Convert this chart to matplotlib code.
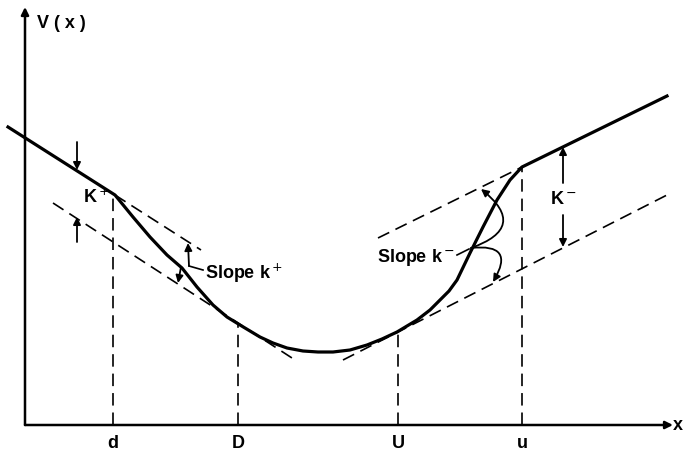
import numpy as np
import matplotlib.pyplot as plt

plt.rcParams['font.family'] = ['Liberation Sans', 'DejaVu Sans']
plt.rcParams['lines.scale_dashes'] = False

curve_x = [-17, 90, 108, 125, 142, 157, 172, 188, 202, 215, 225, 235, 248,
           262, 278, 293, 308, 325, 342, 357, 372, 392, 405, 415, 424, 432,
           445, 458, 472, 485, 497, 642]
curve_v = [298, 230, 208, 188, 170, 157, 138, 120, 108, 100, 94, 88, 82,
           77, 74, 73, 73, 75, 80, 86, 93, 105, 115, 125, 134, 145,
           172, 198, 225, 245, 258, 329]

# break points on the x axis
tick_pos = [88, 213, 373, 497]
tick_labels = ['d', 'D', 'U', 'u']

# dashed tangent lines (slope k+ on the left, slope k- on the right)
left_upper_x, left_upper_v = [90, 176], [230, 175]
left_lower_x, left_lower_v = [28, 267], [222, 67]
right_upper_x, right_upper_v = [353, 497], [187, 258]
right_lower_x, right_lower_v = [318, 642], [65, 230]


def arrow(ax, tail, tip, rad=0.0, lw=1.3):
    ax.annotate('', xy=tip, xytext=tail,
                arrowprops=dict(arrowstyle='-|>', color='k', lw=lw,
                                mutation_scale=11, shrinkA=0, shrinkB=0,
                                connectionstyle='arc3,rad=%s' % rad))


fig = plt.figure(figsize=(6.83, 4.53), dpi=100, facecolor='w')
ax = fig.add_axes([0, 0, 1, 1])
ax.set_xlim(-25, 658)
ax.set_ylim(-28, 425)
ax.axis('off')

txt = dict(fontsize=13, fontweight='bold')

# axes with arrow heads
arrow(ax, (0, 0), (0, 418), lw=1.8)
arrow(ax, (0, 0), (648, 0), lw=1.8)
ax.text(12, 401, 'V ( x )', va='center', ha='left', **txt)
ax.text(658, 0, 'x', va='center', ha='right', **txt)

# the potential curve
ax.plot(curve_x, curve_v, color='k', lw=2.3, solid_joinstyle='round')

dash = dict(color='k', lw=1.2, dashes=(9, 5))
for xs, vs in [(left_upper_x, left_upper_v), (left_lower_x, left_lower_v),
               (right_upper_x, right_upper_v), (right_lower_x, right_lower_v)]:
    ax.plot(xs, vs, **dash)

for pos, lab in zip(tick_pos, tick_labels):
    top = np.interp(pos, curve_x, curve_v)
    ax.plot([pos, pos], [0, top], **dash)
    ax.text(pos, -18, lab, ha='center', va='center', **txt)

# K+ gap on the left
arrow(ax, (52, 283), (52, 255))
arrow(ax, (52, 183), (52, 208))
ax.text(58, 228, 'K$^+$', ha='left', va='center', **txt)

# K- gap on the right
arrow(ax, (538, 242), (538, 278))
arrow(ax, (538, 210), (538, 178))
ax.text(538, 225, 'K$^-$', ha='center', va='center', **txt)

# slope k+ pointers
arrow(ax, (164, 159), (163, 182))
arrow(ax, (156, 158), (153, 142))
ax.plot([164, 178], [159, 155], color='k', lw=1.2)
ax.text(180, 152, 'Slope k$^+$', ha='left', va='center', **txt)

# slope k- pointers
ax.text(430, 168, 'Slope k$^-$', ha='right', va='center', **txt)
ax.plot([432, 444], [170, 176], color='k', lw=1.2)
arrow(ax, (446, 177), (456, 236), rad=0.9)
arrow(ax, (446, 177), (468, 143), rad=-1.0)

fig.savefig('out.png', dpi=100, facecolor='w')
